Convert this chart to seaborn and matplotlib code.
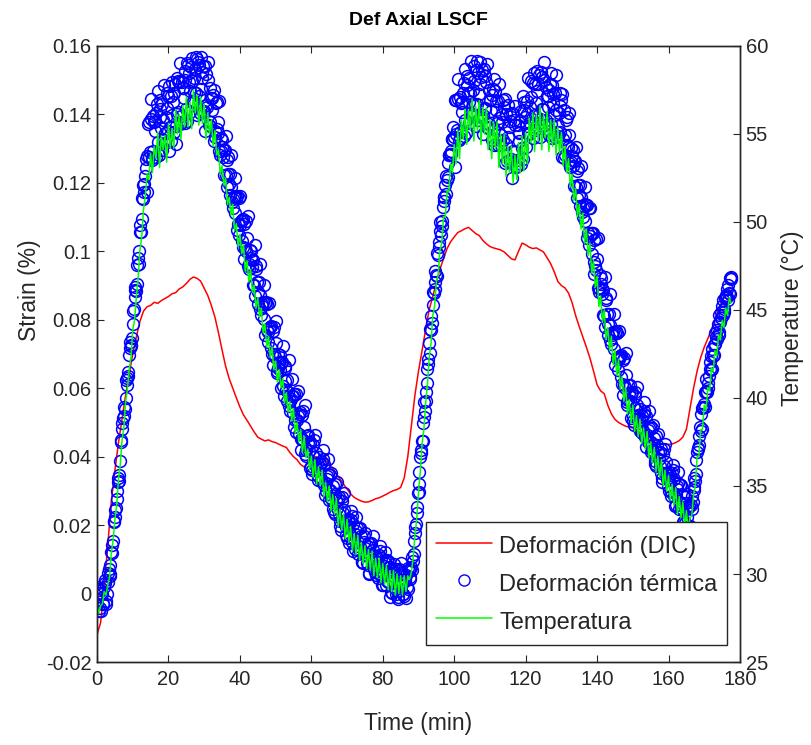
import numpy as np
import matplotlib
matplotlib.use("Agg")
import matplotlib.pyplot as plt
from matplotlib.lines import Line2D
import seaborn as sns

# ---------------- data ----------------
# Deformación (DIC): one value per minute, starting at t = 0 min
dic_strain = [
    -0.0120, -0.0085, 0.0020, 0.0140, 0.0270, 0.0360, 0.0440, 0.0510, 0.0580, 0.0640,
    0.0700, 0.0750, 0.0795, 0.0825, 0.0838, 0.0842, 0.0851, 0.0848, 0.0856, 0.0862,
    0.0868, 0.0876, 0.0879, 0.0890, 0.0896, 0.0906, 0.0918, 0.0925, 0.0921, 0.0913,
    0.0892, 0.0871, 0.0842, 0.0808, 0.0762, 0.0712, 0.0664, 0.0628, 0.0600, 0.0572,
    0.0545, 0.0522, 0.0506, 0.0489, 0.0472, 0.0457, 0.0451, 0.0446, 0.0449, 0.0444,
    0.0441, 0.0436, 0.0431, 0.0427, 0.0412, 0.0400, 0.0391, 0.0377, 0.0370, 0.0381,
    0.0392, 0.0400, 0.0398, 0.0394, 0.0389, 0.0380, 0.0366, 0.0350, 0.0335, 0.0320,
    0.0305, 0.0291, 0.0281, 0.0275, 0.0270, 0.0267, 0.0268, 0.0272, 0.0277, 0.0280,
    0.0285, 0.0290, 0.0296, 0.0301, 0.0304, 0.0310, 0.0338, 0.0400, 0.0490, 0.0580,
    0.0650, 0.0710, 0.0772, 0.0830, 0.0868, 0.0910, 0.0948, 0.0978, 0.1008, 0.1028,
    0.1042, 0.1055, 0.1060, 0.1066, 0.1070, 0.1061, 0.1052, 0.1046, 0.1032, 0.1022,
    0.1014, 0.1010, 0.1007, 0.1004, 0.0998, 0.0988, 0.0978, 0.0975, 0.1000, 0.1024,
    0.1019, 0.1012, 0.1008, 0.1010, 0.1004, 0.0998, 0.0981, 0.0964, 0.0940, 0.0912,
    0.0900, 0.0893, 0.0878, 0.0850, 0.0812, 0.0780, 0.0750, 0.0720, 0.0688, 0.0650,
    0.0610, 0.0592, 0.0584, 0.0550, 0.0525, 0.0509, 0.0500, 0.0494, 0.0489, 0.0486,
    0.0484, 0.0479, 0.0470, 0.0461, 0.0452, 0.0445, 0.0440, 0.0437, 0.0436, 0.0437,
    0.0436, 0.0437, 0.0441, 0.0447, 0.0457, 0.0480, 0.0540, 0.0600, 0.0650, 0.0690,
    0.0720, 0.0745, 0.0770, 0.0800, 0.0830, 0.0855, 0.0870,
]

# Deformación térmica, samples at t = 0, 0.5, 1.0 ... min
thermal_strain_a = [
    -0.0030, 0.0010, -0.0050, 0.0000, 0.0020, -0.0030, 0.0035, 0.0056, 0.0122, 0.0153,
    0.0244, 0.0276, 0.0339, 0.0386, 0.0482, 0.0544, 0.0570, 0.0629, 0.0697, 0.0723,
    0.0788, 0.0866, 0.0884, 0.0980, 0.1056, 0.1095, 0.1194, 0.1221, 0.1279, 0.1276,
    0.1387, 0.1274, 0.1379, 0.1405, 0.1319, 0.1441, 0.1360, 0.1383, 0.1316, 0.1420,
    0.1453, 0.1363, 0.1399, 0.1463, 0.1366, 0.1402, 0.1495, 0.1377, 0.1476, 0.1502,
    0.1417, 0.1544, 0.1468, 0.1497, 0.1435, 0.1533, 0.1561, 0.1455, 0.1475, 0.1523,
    0.1410, 0.1427, 0.1500, 0.1366, 0.1449, 0.1456, 0.1352, 0.1358, 0.1379, 0.1280,
    0.1305, 0.1295, 0.1222, 0.1268, 0.1198, 0.1189, 0.1127, 0.1162, 0.1156, 0.1081,
    0.1078, 0.1091, 0.1012, 0.1009, 0.1039, 0.0948, 0.0981, 0.0974, 0.0903, 0.0949,
    0.0880, 0.0873, 0.0814, 0.0851, 0.0848, 0.0771, 0.0765, 0.0778, 0.0699, 0.0699,
    0.0731, 0.0643, 0.0678, 0.0674, 0.0606, 0.0658, 0.0594, 0.0589, 0.0533, 0.0576,
    0.0578, 0.0506, 0.0506, 0.0524, 0.0451, 0.0453, 0.0488, 0.0402, 0.0441, 0.0439,
    0.0374, 0.0434, 0.0378, 0.0381, 0.0333, 0.0379, 0.0384, 0.0317, 0.0322, 0.0343,
    0.0273, 0.0278, 0.0315, 0.0232, 0.0273, 0.0275, 0.0212, 0.0269, 0.0210, 0.0211,
    0.0161, 0.0208, 0.0216, 0.0152, 0.0160, 0.0184, 0.0116, 0.0127, 0.0169, 0.0089,
    0.0133, 0.0140, 0.0082, 0.0145, 0.0091, 0.0098, 0.0053, 0.0103, 0.0114, 0.0052,
    0.0063, 0.0090, 0.0024, 0.0035, 0.0077, 0.0003, 0.0052, 0.0061, 0.0007, 0.0072,
    0.0021, 0.0033, -0.0007, 0.0055, 0.0076, 0.0043, 0.0078, 0.0096, 0.0176, 0.0252,
    0.0296, 0.0400, 0.0446, 0.0517, 0.0562, 0.0657, 0.0733, 0.0770, 0.0843, 0.0910,
    0.0931, 0.0988, 0.1060, 0.1073, 0.1148, 0.1194, 0.1209, 0.1280, 0.1294, 0.1327,
    0.1334, 0.1343, 0.1446, 0.1331, 0.1433, 0.1464, 0.1384, 0.1511, 0.1435, 0.1462,
    0.1397, 0.1498, 0.1529, 0.1431, 0.1459, 0.1509, 0.1399, 0.1419, 0.1495, 0.1360,
    0.1443, 0.1456, 0.1357, 0.1468, 0.1376, 0.1389, 0.1311, 0.1401, 0.1421, 0.1314,
    0.1334, 0.1382, 0.1269, 0.1292, 0.1370, 0.1250, 0.1346, 0.1381, 0.1303, 0.1436,
    0.1365, 0.1400, 0.1343, 0.1452, 0.1491, 0.1398, 0.1432, 0.1490, 0.1388, 0.1416,
    0.1500, 0.1369, 0.1454, 0.1470, 0.1373, 0.1487, 0.1398, 0.1413, 0.1338, 0.1425,
    0.1442, 0.1328, 0.1340, 0.1312, 0.1341, 0.1247, 0.1278, 0.1265, 0.1189, 0.1236,
    0.1166, 0.1159, 0.1100, 0.1137, 0.1134, 0.1054, 0.1046, 0.1053, 0.0969, 0.0958,
    0.0979, 0.0880, 0.0905, 0.0890, 0.0811, 0.0858, 0.0788, 0.0784, 0.0728, 0.0765,
    0.0762, 0.0687, 0.0684, 0.0694, 0.0613, 0.0610, 0.0639, 0.0551, 0.0587, 0.0585,
    0.0520, 0.0577, 0.0518, 0.0522, 0.0474, 0.0519, 0.0524, 0.0457, 0.0463, 0.0484,
    0.0413, 0.0418, 0.0455, 0.0373, 0.0414, 0.0415, 0.0352, 0.0409, 0.0351, 0.0352,
    0.0301, 0.0346, 0.0351, 0.0285, 0.0290, 0.0314, 0.0246, 0.0251, 0.0288, 0.0205,
    0.0246, 0.0250, 0.0190, 0.0248, 0.0310, 0.0330, 0.0413, 0.0460, 0.0474, 0.0543,
    0.0554, 0.0590, 0.0600, 0.0657, 0.0695, 0.0694, 0.0729, 0.0769, 0.0764, 0.0793,
    0.0839, 0.0822, 0.0867, 0.0889, 0.0879, 0.0924,
]

# Deformación térmica, samples at t = 0.25, 0.75, 1.25 ... min
thermal_strain_b = [
    0.0010, -0.0043, 0.0003, -0.0030, 0.0030, 0.0000, 0.0072, 0.0082, 0.0119, 0.0208,
    0.0250, 0.0327, 0.0346, 0.0443, 0.0514, 0.0538, 0.0608, 0.0647, 0.0736, 0.0746,
    0.0831, 0.0897, 0.0961, 0.1001, 0.1057, 0.1154, 0.1198, 0.1269, 0.1372, 0.1291,
    0.1266, 0.1396, 0.1352, 0.1429, 0.1280, 0.1391, 0.1429, 0.1324, 0.1391, 0.1352,
    0.1484, 0.1321, 0.1437, 0.1490, 0.1507, 0.1408, 0.1371, 0.1496, 0.1449, 0.1526,
    0.1380, 0.1496, 0.1540, 0.1440, 0.1507, 0.1462, 0.1554, 0.1405, 0.1505, 0.1542,
    0.1542, 0.1423, 0.1368, 0.1477, 0.1412, 0.1471, 0.1433, 0.1346, 0.1294, 0.1332,
    0.1277, 0.1296, 0.1189, 0.1227, 0.1226, 0.1144, 0.1158, 0.1111, 0.1161, 0.1047,
    0.1088, 0.1094, 0.1080, 0.1001, 0.0958, 0.1004, 0.0955, 0.0976, 0.0870, 0.0909,
    0.0909, 0.0830, 0.0846, 0.0802, 0.0852, 0.0735, 0.0775, 0.0781, 0.0768, 0.0692,
    0.0651, 0.0700, 0.0653, 0.0677, 0.0576, 0.0620, 0.0624, 0.0547, 0.0568, 0.0529,
    0.0584, 0.0473, 0.0518, 0.0530, 0.0521, 0.0448, 0.0409, 0.0461, 0.0417, 0.0444,
    0.0348, 0.0400, 0.0412, 0.0343, 0.0369, 0.0334, 0.0393, 0.0287, 0.0336, 0.0350,
    0.0345, 0.0274, 0.0238, 0.0292, 0.0251, 0.0281, 0.0185, 0.0234, 0.0243, 0.0172,
    0.0198, 0.0164, 0.0226, 0.0123, 0.0175, 0.0192, 0.0191, 0.0125, 0.0093, 0.0150,
    0.0114, 0.0148, 0.0058, 0.0112, 0.0127, 0.0062, 0.0091, 0.0061, 0.0125, 0.0025,
    0.0080, 0.0099, 0.0099, 0.0033, 0.0004, 0.0067, 0.0034, 0.0071, -0.0016, 0.0041,
    0.0059, -0.0001, 0.0037, 0.0018, 0.0068, 0.0049, 0.0069, 0.0155, 0.0203, 0.0293,
    0.0320, 0.0420, 0.0498, 0.0533, 0.0616, 0.0671, 0.0773, 0.0791, 0.0879, 0.0942,
    0.0994, 0.1012, 0.1049, 0.1130, 0.1160, 0.1221, 0.1217, 0.1284, 0.1327, 0.1324,
    0.1443, 0.1354, 0.1324, 0.1452, 0.1408, 0.1491, 0.1347, 0.1463, 0.1506, 0.1404,
    0.1471, 0.1429, 0.1556, 0.1385, 0.1490, 0.1530, 0.1532, 0.1416, 0.1363, 0.1471,
    0.1409, 0.1473, 0.1312, 0.1412, 0.1440, 0.1324, 0.1379, 0.1326, 0.1444, 0.1264,
    0.1364, 0.1401, 0.1404, 0.1290, 0.1245, 0.1368, 0.1323, 0.1409, 0.1269, 0.1391,
    0.1440, 0.1346, 0.1421, 0.1387, 0.1521, 0.1355, 0.1467, 0.1515, 0.1525, 0.1417,
    0.1370, 0.1481, 0.1422, 0.1488, 0.1330, 0.1433, 0.1463, 0.1350, 0.1405, 0.1349,
    0.1461, 0.1274, 0.1383, 0.1304, 0.1258, 0.1302, 0.1249, 0.1264, 0.1157, 0.1195,
    0.1195, 0.1116, 0.1132, 0.1088, 0.1136, 0.1017, 0.1053, 0.1053, 0.1033, 0.0946,
    0.0894, 0.0932, 0.0875, 0.0888, 0.0779, 0.0817, 0.0818, 0.0742, 0.0760, 0.0716,
    0.0767, 0.0653, 0.0692, 0.0696, 0.0681, 0.0602, 0.0559, 0.0608, 0.0563, 0.0590,
    0.0493, 0.0542, 0.0552, 0.0484, 0.0510, 0.0474, 0.0533, 0.0427, 0.0477, 0.0491,
    0.0485, 0.0414, 0.0378, 0.0433, 0.0392, 0.0421, 0.0325, 0.0374, 0.0384, 0.0313,
    0.0337, 0.0301, 0.0360, 0.0255, 0.0305, 0.0322, 0.0318, 0.0247, 0.0211, 0.0265,
    0.0225, 0.0257, 0.0259, 0.0267, 0.0302, 0.0391, 0.0426, 0.0486, 0.0481, 0.0546,
    0.0588, 0.0588, 0.0635, 0.0652, 0.0716, 0.0696, 0.0751, 0.0788, 0.0813, 0.0804,
    0.0813, 0.0864, 0.0867, 0.0903, 0.0874,
]

# Deformación térmica, samples at t = 0.125, 0.625, 1.125 ... min
thermal_strain_c = [
    0.0020, -0.0050, 0.0015, -0.0030, 0.0040, -0.0023, 0.0059, 0.0050, 0.0142, 0.0211,
    0.0223, 0.0300, 0.0330, 0.0448, 0.0498, 0.0519, 0.0623, 0.0635, 0.0718, 0.0726,
    0.0825, 0.0888, 0.0904, 0.0962, 0.1078, 0.1155, 0.1172, 0.1244, 0.1174, 0.1377,
    0.1444, 0.1293, 0.1381, 0.1276, 0.1468, 0.1416, 0.1297, 0.1487, 0.1347, 0.1463,
    0.1293, 0.1455, 0.1496, 0.1350, 0.1314, 0.1498, 0.1551, 0.1394, 0.1478, 0.1374,
    0.1550, 0.1520, 0.1407, 0.1565, 0.1465, 0.1568, 0.1397, 0.1543, 0.1568, 0.1406,
    0.1353, 0.1518, 0.1552, 0.1378, 0.1447, 0.1323, 0.1334, 0.1435, 0.1440, 0.1293,
    0.1324, 0.1222, 0.1337, 0.1275, 0.1165, 0.1280, 0.1154, 0.1213, 0.1063, 0.1156,
    0.1161, 0.1030, 0.0979, 0.1088, 0.1102, 0.0963, 0.1000, 0.0901, 0.1017, 0.0956,
    0.0847, 0.0964, 0.0841, 0.0902, 0.0755, 0.0846, 0.0848, 0.0717, 0.0667, 0.0779,
    0.0795, 0.0659, 0.0698, 0.0602, 0.0722, 0.0666, 0.0562, 0.0681, 0.0562, 0.0628,
    0.0486, 0.0582, 0.0591, 0.0465, 0.0420, 0.0534, 0.0552, 0.0419, 0.0462, 0.0368,
    0.0360, 0.0448, 0.0464, 0.0365, 0.0399, 0.0328, 0.0419, 0.0378, 0.0301, 0.0393,
    0.0304, 0.0353, 0.0246, 0.0319, 0.0327, 0.0232, 0.0197, 0.0282, 0.0295, 0.0195,
    0.0217, 0.0148, 0.0242, 0.0204, 0.0130, 0.0224, 0.0139, 0.0193, 0.0091, 0.0167,
    0.0178, 0.0088, 0.0059, 0.0149, 0.0168, 0.0073, 0.0109, 0.0044, 0.0140, 0.0105,
    0.0024, 0.0121, 0.0037, 0.0092, -0.0009, 0.0072, 0.0087, 0.0000, -0.0010, 0.0067,
    0.0089, -0.0001, 0.0042, -0.0012, 0.0013, 0.0072, 0.0106, 0.0115, 0.0194, 0.0234,
    0.0355, 0.0410, 0.0445, 0.0561, 0.0588, 0.0685, 0.0704, 0.0811, 0.0882, 0.0891,
    0.0929, 0.1026, 0.1086, 0.1090, 0.1158, 0.1168, 0.1259, 0.1281, 0.1284, 0.1362,
    0.1247, 0.1442, 0.1503, 0.1349, 0.1437, 0.1337, 0.1534, 0.1487, 0.1374, 0.1555,
    0.1428, 0.1541, 0.1367, 0.1521, 0.1553, 0.1393, 0.1343, 0.1511, 0.1547, 0.1373,
    0.1442, 0.1324, 0.1503, 0.1440, 0.1311, 0.1490, 0.1339, 0.1441, 0.1257, 0.1402,
    0.1427, 0.1265, 0.1214, 0.1385, 0.1426, 0.1266, 0.1350, 0.1254, 0.1454, 0.1413,
    0.1306, 0.1506, 0.1376, 0.1497, 0.1330, 0.1489, 0.1527, 0.1376, 0.1334, 0.1510,
    0.1553, 0.1383, 0.1454, 0.1339, 0.1520, 0.1460, 0.1334, 0.1515, 0.1365, 0.1464,
    0.1276, 0.1414, 0.1282, 0.1391, 0.1404, 0.1262, 0.1296, 0.1191, 0.1304, 0.1243,
    0.1133, 0.1250, 0.1127, 0.1188, 0.1040, 0.1128, 0.1128, 0.0991, 0.0934, 0.1035,
    0.1040, 0.0893, 0.0922, 0.0815, 0.0926, 0.0865, 0.0756, 0.0876, 0.0756, 0.0816,
    0.0669, 0.0762, 0.0766, 0.0633, 0.0580, 0.0689, 0.0703, 0.0567, 0.0608, 0.0514,
    0.0505, 0.0590, 0.0604, 0.0506, 0.0539, 0.0468, 0.0559, 0.0519, 0.0442, 0.0533,
    0.0444, 0.0493, 0.0386, 0.0460, 0.0467, 0.0372, 0.0337, 0.0423, 0.0436, 0.0335,
    0.0356, 0.0285, 0.0376, 0.0336, 0.0260, 0.0354, 0.0267, 0.0316, 0.0209, 0.0282,
    0.0290, 0.0198, 0.0198, 0.0284, 0.0338, 0.0349, 0.0423, 0.0434, 0.0524, 0.0544,
    0.0545, 0.0626, 0.0616, 0.0676, 0.0657, 0.0726, 0.0761, 0.0743, 0.0755, 0.0824,
    0.0858, 0.0832, 0.0871, 0.0857, 0.0923, 0.0919,
]

# Temperatura (°C): one value every half minute, starting at t = 0 min
temperature = [
    28.2, 27.8, 28.2, 28.3, 29.0, 28.8, 29.4, 29.8, 31.2, 31.9, 33.1, 33.9, 35.4, 36.2, 37.6, 38.3, 39.8, 40.5, 41.6, 42.3,
    43.9, 44.4, 45.7, 46.8, 48.4, 49.1, 50.7, 51.4, 52.7, 52.4, 53.9, 52.8, 54.3, 53.6, 55.1, 53.1, 54.9, 54.1, 54.9, 53.4,
    55.6, 54.2, 55.3, 54.2, 56.4, 55.0, 56.1, 54.7, 56.6, 55.4, 57.1, 55.4, 56.8, 55.3, 57.5, 56.2, 57.2, 55.5, 57.1, 55.6,
    56.7, 54.7, 56.2, 55.0, 55.8, 54.3, 55.2, 53.8, 54.1, 52.7, 53.2, 52.1, 52.5, 51.0, 51.4, 50.4, 51.0, 49.5, 49.9, 48.6,
    49.3, 48.2, 48.7, 47.2, 47.8, 46.6, 47.3, 46.0, 46.4, 45.1, 45.7, 44.6, 45.1, 43.7, 44.2, 42.9, 43.5, 42.3, 42.9, 41.6,
    42.1, 40.9, 41.6, 40.6, 41.1, 39.7, 40.3, 39.2, 39.8, 38.7, 39.4, 38.0, 38.6, 37.5, 38.2, 36.9, 37.8, 36.6, 37.1, 35.9,
    36.7, 35.5, 36.5, 35.1, 36.1, 35.0, 35.9, 34.4, 35.2, 34.1, 35.0, 33.6, 34.5, 33.4, 34.3, 32.7, 33.7, 32.5, 33.4, 32.0,
    33.1, 31.8, 32.7, 31.3, 32.3, 31.1, 32.2, 30.8, 31.8, 30.6, 31.6, 30.3, 31.4, 30.2, 31.3, 29.9, 30.9, 29.8, 30.9, 29.5,
    30.6, 29.4, 30.5, 29.1, 30.2, 29.0, 30.2, 28.8, 30.0, 28.9, 29.9, 28.8, 29.9, 29.0, 29.9, 29.7, 30.1, 30.9, 32.2, 33.1,
    34.7, 35.8, 37.4, 38.2, 39.7, 40.8, 42.3, 43.1, 44.7, 45.2, 46.6, 47.0, 48.4, 48.8, 50.3, 50.3, 51.8, 51.7, 53.3, 52.8,
    54.4, 53.3, 55.2, 53.6, 55.8, 54.7, 56.4, 54.4, 56.4, 55.2, 57.0, 54.6, 56.6, 55.2, 56.9, 54.4, 56.5, 55.0, 56.5, 54.1,
    55.8, 53.6, 55.7, 54.2, 55.7, 53.1, 55.0, 53.3, 55.0, 52.6, 54.3, 52.8, 54.3, 52.2, 53.8, 52.4, 54.5, 52.8, 54.9, 52.9,
    55.1, 53.3, 55.9, 54.5, 56.2, 54.0, 56.1, 54.6, 56.6, 54.1, 56.1, 54.8, 56.3, 54.0, 55.8, 54.3, 55.8, 53.8, 55.4, 53.9,
    55.1, 53.2, 54.3, 52.8, 53.6, 52.0, 52.7, 51.2, 51.9, 50.3, 51.0, 49.6, 50.5, 48.8, 49.6, 48.1, 48.8, 47.1, 47.8, 46.3,
    46.9, 45.2, 45.8, 44.3, 45.0, 43.3, 44.0, 42.7, 43.5, 41.9, 42.7, 41.3, 42.2, 40.5, 41.2, 39.8, 40.6, 39.1, 39.9, 38.6,
    39.6, 38.1, 39.0, 37.8, 38.8, 37.4, 38.3, 37.1, 38.1, 36.6, 37.5, 36.3, 37.2, 35.8, 36.7, 35.5, 36.5, 35.0, 35.9, 34.7,
    35.6, 34.2, 35.1, 33.9, 34.9, 33.4, 34.4, 33.2, 34.1, 32.7, 33.6, 32.5, 33.2, 33.3, 34.5, 35.0, 36.7, 36.7, 38.2, 38.2,
    39.6, 39.3, 40.6, 40.4, 41.7, 41.5, 42.7, 42.4, 43.6, 43.3, 44.4, 44.0, 45.1, 44.7, 45.7, 45.4,
]

dic_time = np.arange(len(dic_strain)) * 1.0                    # min
sample_time = np.arange(len(temperature)) * 0.5                # min
thermal_time = np.concatenate([np.arange(len(thermal_strain_a)) * 0.5,
                               np.arange(len(thermal_strain_c)) * 0.5 + 0.125,
                               np.arange(len(thermal_strain_b)) * 0.5 + 0.25])
thermal_strain = np.concatenate([thermal_strain_a, thermal_strain_c, thermal_strain_b])

x_ticks = [0, 20, 40, 60, 80, 100, 120, 140, 160, 180]
strain_ticks = [-0.02, 0, 0.02, 0.04, 0.06, 0.08, 0.1, 0.12, 0.14, 0.16]
strain_tick_labels = ["-0.02", "0", "0.02", "0.04", "0.06", "0.08", "0.1", "0.12", "0.14", "0.16"]
temp_ticks = [25, 30, 35, 40, 45, 50, 55, 60]

labels = ["Deformación (DIC)", "Deformación térmica", "Temperatura"]

# ---------------- styling ----------------
sns.set_theme(style="white")
plt.rcParams["font.family"] = ["Liberation Sans", "DejaVu Sans"]
dark = (0.15, 0.15, 0.15)
red = (1.0, 0.0, 0.0)
blue = (0.0, 0.0, 1.0)
green = (0.0, 1.0, 0.0)

fig = plt.figure(figsize=(8.12, 7.45), dpi=100)
fig.patch.set_facecolor("white")
ax = fig.add_axes([0.1195, 0.1114, 0.7918, 0.8269])
ax2 = ax.twinx()

sns.lineplot(x=dic_time, y=dic_strain, ax=ax, color=red, linewidth=1.1,
             estimator=None, sort=False, legend=False)
sns.lineplot(x=thermal_time, y=thermal_strain, ax=ax, estimator=None, sort=True,
             legend=False, color=blue, linestyle="", marker="o", markersize=8.5,
             markerfacecolor="none", markeredgecolor=blue, markeredgewidth=1.1)
sns.lineplot(x=sample_time, y=temperature, ax=ax2, color=green, linewidth=1.1,
             estimator=None, sort=False, legend=False)

ax.set_xlim(0, 180)
ax.set_ylim(-0.02, 0.16)
ax2.set_ylim(25, 60)
ax.set_xticks(x_ticks)
ax.set_xticklabels([str(v) for v in x_ticks])
ax.set_yticks(strain_ticks)
ax.set_yticklabels(strain_tick_labels)
ax2.set_yticks(temp_ticks)
ax2.set_yticklabels([str(v) for v in temp_ticks])

for a in (ax, ax2):
    for sp in a.spines.values():
        sp.set_color(dark)
        sp.set_linewidth(1.0)
    a.grid(False)
    a.set_facecolor("none")
ax.set_facecolor("white")

ax.tick_params(axis="x", which="both", direction="in", length=5, width=0.8,
               colors=dark, labelsize=14.5, pad=6, top=True, bottom=True)
ax.tick_params(axis="y", direction="in", length=5, width=0.8, colors=dark,
               labelsize=14.5, pad=4, left=True, right=False)
ax2.tick_params(axis="y", direction="in", length=5, width=0.8, colors=dark,
                labelsize=14.5, pad=4, right=True, left=False)

ax.set_xlabel("Time (min)", fontsize=16.5, color=dark, labelpad=16)
ax.set_ylabel("Strain (%)", fontsize=16.5, color=dark)
ax2.set_ylabel("Temperature (°C)", fontsize=16.5, color=dark)
ax.yaxis.set_label_coords(-0.087, 0.604)
ax2.yaxis.set_label_coords(1.064, 0.558)
ax.set_title("Def Axial LSCF", fontsize=14, fontweight="bold", color="black", pad=15)

handles = [
    Line2D([], [], color=red, linewidth=1.1),
    Line2D([], [], linestyle="", marker="o", markersize=8, markerfacecolor="none",
           markeredgecolor=blue, markeredgewidth=1.0),
    Line2D([], [], color=green, linewidth=1.1),
]
leg = ax2.legend(handles, labels, loc="lower right", bbox_to_anchor=(0.98, 0.0276),
                 borderaxespad=0, fontsize=17, frameon=True, fancybox=False,
                 framealpha=1, edgecolor=dark, handlelength=2.4, handletextpad=0.3,
                 handleheight=1.45, labelspacing=0.42, borderpad=0.4)
leg.get_frame().set_linewidth(1.0)
for txt in leg.get_texts():
    txt.set_color(dark)

fig.savefig("out.png", dpi=100, facecolor="white")
